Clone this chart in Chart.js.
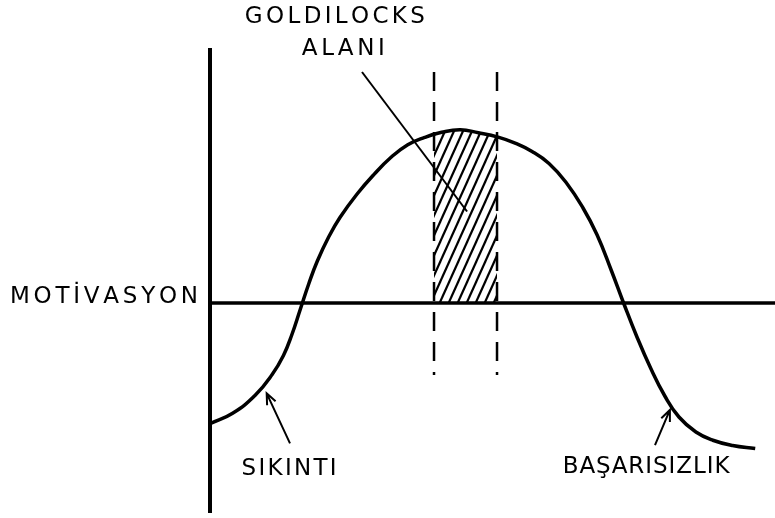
<!DOCTYPE html>
<html>
<head>
<meta charset="utf-8">
<script src="https://cdn.jsdelivr.net/npm/chart.js@4"></script>
<style>
  body { margin: 0; background: #fff; }
  canvas { display: block; }
</style>
</head>
<body>
<canvas id="chart" width="775" height="518"></canvas>
<script>
// Curve: motivation vs difficulty (x = difficulty, y = motivation, 0 = axis)
const curveX = [0, 4, 8, 11, 13, 14.5, 16, 17.5, 19, 21, 23, 26, 29, 32, 35, 38, 41, 44.3,
                47.5, 51, 54, 57, 60, 63, 66, 68.5, 71, 73.2, 75.5, 78, 80.5, 83, 86, 89, 92.5, 96.5];
const curveY = [-8.05, -7.35, -6.15, -4.77, -3.5, -2.1, -0.4, 1.3, 2.8, 4.4, 5.7, 7.25, 8.56, 9.7, 10.55, 11.04, 11.38, 11.55,
                11.35, 11.06, 10.66, 10.1, 9.3, 8.05, 6.35, 4.55, 2.2, 0, -2.2, -4.35, -6.2, -7.6, -8.6, -9.15, -9.5, -9.7];

// Goldilocks zone (hatched part of the curve above the axis)
const hatchX = [39.65, 41, 44.3, 47.5, 50.8];
const hatchY = [11.23, 11.38, 11.55, 11.35, 11.08];
const zoneEdges = [39.65, 50.8];
const zoneTop = 15.4;
const zoneBottom = -4.8;

// Leader line from the title to the zone
const leaderX = [26.9, 45.5];
const leaderY = [15.4, 6.1];

const labels = ["GOLDILOCKS", "ALANI", "MOTİVASYON", "SIKINTI", "BAŞARISIZLIK"];

const pts = (xs, ys) => xs.map((x, i) => ({ x, y: ys[i] }));

// diagonal hatch pattern
function hatchPattern() {
  const w = 9, h = 20;
  const c = document.createElement("canvas");
  c.width = w; c.height = h;
  const g = c.getContext("2d");
  g.strokeStyle = "#000";
  g.lineWidth = 2.2;
  [[-w, h, w, -h], [-w, 2 * h, 2 * w, -h], [0, 2 * h, 2 * w, 0]].forEach(l => {
    g.beginPath(); g.moveTo(l[0], l[1]); g.lineTo(l[2], l[3]); g.stroke();
  });
  return g.createPattern(c, "repeat");
}

function drawSpaced(ctx, text, cx, baseY, width) {
  const chars = Array.from(text);
  const ws = chars.map(ch => ctx.measureText(ch).width);
  const sum = ws.reduce((a, b) => a + b, 0);
  const gap = chars.length > 1 ? (width - sum) / (chars.length - 1) : 0;
  let x = cx - width / 2;
  chars.forEach((ch, i) => {
    ctx.fillText(ch, x, baseY);
    x += ws[i] + gap;
  });
}

function arrow(ctx, x1, y1, x2, y2) {
  const a = Math.atan2(y2 - y1, x2 - x1);
  const len = 12, spread = 0.4;
  ctx.beginPath();
  ctx.moveTo(x1, y1); ctx.lineTo(x2, y2);
  ctx.moveTo(x2 - len * Math.cos(a - spread), y2 - len * Math.sin(a - spread));
  ctx.lineTo(x2, y2);
  ctx.lineTo(x2 - len * Math.cos(a + spread), y2 - len * Math.sin(a + spread));
  ctx.stroke();
}

// axes, labels and arrows
const diagram = {
  id: "diagram",
  beforeDatasetsDraw(chart) {
    const { ctx, chartArea, scales: { x, y } } = chart;
    ctx.save();
    ctx.strokeStyle = "#000";
    ctx.lineWidth = 4;
    ctx.beginPath();
    ctx.moveTo(x.getPixelForValue(0), chartArea.top);
    ctx.lineTo(x.getPixelForValue(0), chartArea.bottom);
    ctx.stroke();
    ctx.lineWidth = 3.5;
    ctx.beginPath();
    ctx.moveTo(x.getPixelForValue(0) - 2, y.getPixelForValue(0));
    ctx.lineTo(chartArea.right, y.getPixelForValue(0));
    ctx.stroke();
    ctx.restore();
  },
  afterDatasetsDraw(chart) {
    const { ctx, scales: { x, y } } = chart;
    ctx.save();
    ctx.fillStyle = "#000";
    ctx.strokeStyle = "#000";
    ctx.font = "23px 'DejaVu Sans', sans-serif";
    ctx.textBaseline = "alphabetic";
    drawSpaced(ctx, labels[0], x.getPixelForValue(22.1), y.getPixelForValue(18.67), 180);
    drawSpaced(ctx, labels[1], x.getPixelForValue(23.6), y.getPixelForValue(16.53), 83);
    drawSpaced(ctx, labels[2], x.getPixelForValue(-18.76), y.getPixelForValue(0), 188);
    drawSpaced(ctx, labels[3], x.getPixelForValue(14.0), y.getPixelForValue(-11.47), 95);
    drawSpaced(ctx, labels[4], x.getPixelForValue(77.2), y.getPixelForValue(-11.33), 167);

    ctx.lineWidth = 2;
    arrow(ctx, x.getPixelForValue(14.16), y.getPixelForValue(-9.36), x.getPixelForValue(10.03), y.getPixelForValue(-6.02));
    arrow(ctx, x.getPixelForValue(78.76), y.getPixelForValue(-9.47), x.getPixelForValue(81.4), y.getPixelForValue(-7.13));
    ctx.restore();
  }
};

new Chart(document.getElementById("chart"), {
  type: "line",
  data: {
    datasets: [
      {
        data: pts(curveX, curveY),
        borderColor: "#000",
        borderWidth: 3.5,
        tension: 0.45,
        pointRadius: 0,
        fill: false
      },
      {
        data: pts(hatchX, hatchY),
        borderWidth: 0,
        borderColor: "rgba(0,0,0,0)",
        backgroundColor: hatchPattern(),
        tension: 0.45,
        pointRadius: 0,
        fill: "origin"
      },
      ...zoneEdges.map(v => ({
        data: [{ x: v, y: zoneTop }, { x: v, y: zoneBottom }],
        borderColor: "#000",
        borderWidth: 2.5,
        borderDash: [19, 11],
        pointRadius: 0,
        fill: false
      })),
      {
        data: pts(leaderX, leaderY),
        borderColor: "#000",
        borderWidth: 2,
        pointRadius: 0,
        fill: false
      }
    ]
  },
  options: {
    responsive: false,
    animation: false,
    layout: { padding: { left: 210, right: 0, top: 48, bottom: 5 } },
    plugins: { legend: { display: false }, tooltip: { enabled: false } },
    scales: {
      x: { type: "linear", min: 0, max: 100, display: false },
      y: { type: "linear", min: -14, max: 17, display: false }
    }
  },
  plugins: [diagram]
});
</script>
</body>
</html>
